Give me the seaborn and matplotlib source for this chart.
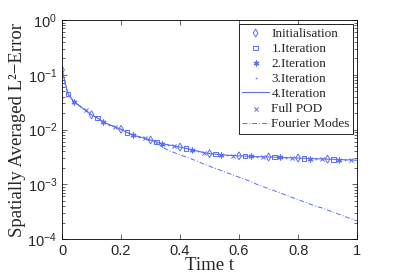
import numpy as np
import pandas as pd
import matplotlib
matplotlib.use("Agg")
import matplotlib.pyplot as plt
import seaborn as sns

# time grid (every 0.02) and error curves
time_t = np.round(np.arange(0, 1.0001, 0.02), 2)

# POD iterations all sit on the same curve at this resolution
err_pod = [0.123, 0.0447, 0.0324, 0.0269, 0.0224, 0.0186, 0.0162, 0.0138, 0.0123, 0.0111,
           0.0101, 0.0089, 0.0079, 0.0074, 0.0069, 0.00646, 0.00596, 0.0055, 0.00525, 0.0050,
           0.00479, 0.00452, 0.00427, 0.00403, 0.0038, 0.00363, 0.00355, 0.00347, 0.00339, 0.00335,
           0.00331, 0.00327, 0.00324, 0.0032, 0.00318, 0.00316, 0.00313, 0.00309, 0.00307, 0.00304,
           0.00302, 0.00299, 0.00296, 0.00294, 0.00291, 0.00288, 0.00286, 0.00283, 0.00281, 0.00278,
           0.00275]

err_fourier = [0.123, 0.0447, 0.0324, 0.0269, 0.0224, 0.0186, 0.0162, 0.0138, 0.0123, 0.0111,
               0.0101, 0.0089, 0.0079, 0.0074, 0.0069, 0.00631, 0.00562, 0.00479, 0.00417, 0.0038,
               0.00347, 0.00316, 0.00288, 0.00263, 0.00234, 0.00214, 0.00195, 0.00178, 0.00162, 0.00148,
               0.00135, 0.00123, 0.00112, 0.00100, 0.000912, 0.000832, 0.000759, 0.000692, 0.000631, 0.000575,
               0.000525, 0.000479, 0.000437, 0.000398, 0.000372, 0.000339, 0.000309, 0.000282, 0.000257, 0.000234,
               0.000214]

x_ticks = [0, 0.2, 0.4, 0.6, 0.8, 1]
x_ticklabels = ["0", "0.2", "0.4", "0.6", "0.8", "1"]

df = pd.DataFrame({"t": time_t, "pod": err_pod, "fourier": err_fourier})

sns.set_style("ticks")
plt.rcParams["mathtext.fontset"] = "custom"
plt.rcParams["mathtext.rm"] = "Liberation Sans"
plt.rcParams["mathtext.it"] = "Liberation Sans:italic"
plt.rcParams["font.family"] = ["Liberation Sans", "DejaVu Sans"]

blue = "#5a6ef6"
fig = plt.figure(figsize=(3.95, 2.78), dpi=100)
ax = fig.add_axes([0.157, 0.140, 0.747, 0.788])

# markers sit at staggered times, one every 0.1
sub = lambda k: df.iloc[k:50:5]
sns.scatterplot(data=sub(0), x="t", y="pod", ax=ax, marker="d", s=16, facecolor="none",
                edgecolor=blue, linewidth=0.7, label="Initialisation")
sns.scatterplot(data=sub(1), x="t", y="pod", ax=ax, marker="s", s=11, facecolor="none",
                edgecolor=blue, linewidth=0.7, label="1.Iteration")
sns.scatterplot(data=sub(2), x="t", y="pod", ax=ax, marker=(6, 2, 0), s=12, color=blue,
                edgecolor=blue, linewidth=0.9, label="2.Iteration")
sns.scatterplot(data=sub(3), x="t", y="pod", ax=ax, marker=".", s=6, color=blue,
                edgecolor=blue, linewidth=0, label="3.Iteration")
sns.lineplot(data=df, x="t", y="pod", ax=ax, color=blue, lw=0.8, label="4.Iteration")
sns.scatterplot(data=sub(4), x="t", y="pod", ax=ax, marker="x", s=9, color=blue,
                linewidth=0.7, label="Full POD")
sns.lineplot(data=df, x="t", y="fourier", ax=ax, color=blue, lw=0.7, linestyle=(0, (5, 2, 1, 2)),
             label="Fourier Modes")

ax.set_yscale("log")
ax.set_ylim(1e-4, 1)
ax.set_xlim(0, 1)
ax.set_xticks(x_ticks)
ax.set_xticklabels(x_ticklabels)
ax.tick_params(which="both", direction="in", top=True, right=True, labelsize=10.5, width=0.5)
ax.tick_params(which="major", length=3.5)
ax.tick_params(which="minor", length=2)
for sp in ax.spines.values():
    sp.set_linewidth(0.6)
    sp.set_color("black")

serif = ["Liberation Serif", "DejaVu Serif"]
ax.set_xlabel("Time t", family=serif, fontsize=13.5, labelpad=-1)
ax.set_ylabel("Spatially Averaged L²−Error", family=serif, fontsize=13.5, labelpad=1)

leg = ax.legend(loc="upper right", prop={"family": serif, "size": 9.5}, frameon=True, fancybox=False,
                edgecolor="black", framealpha=1, borderpad=0.25, labelspacing=0.22,
                handlelength=2.0, handletextpad=0.2, borderaxespad=0.3)
leg.get_frame().set_linewidth(0.6)

fig.savefig("out.png", dpi=100)
